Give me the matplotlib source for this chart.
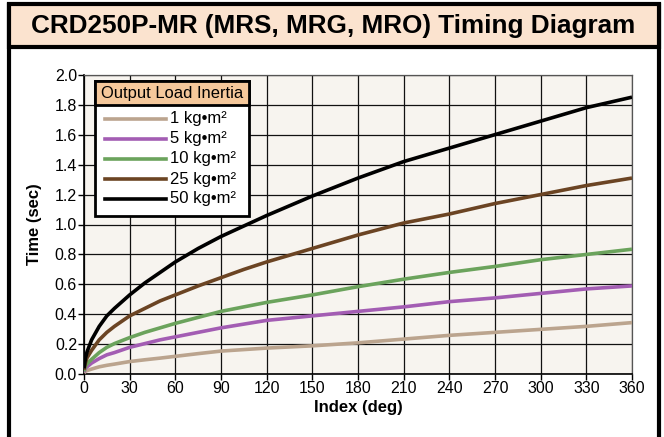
import matplotlib
matplotlib.use("Agg")
import matplotlib.pyplot as plt
from matplotlib.patches import Rectangle
from matplotlib.lines import Line2D

plt.rcParams["font.family"] = ["Liberation Sans", "DejaVu Sans"]

# index angle (deg) and time (sec)
index_deg = [0, 1, 2, 5, 10, 15, 20, 30, 40, 50, 60, 75, 90, 105, 120,
             150, 180, 210, 240, 270, 300, 330, 360]
t_1 = [0.01, 0.02, 0.025, 0.035, 0.05, 0.06, 0.068, 0.085, 0.097, 0.108, 0.12, 0.138,
       0.155, 0.165, 0.175, 0.19, 0.21, 0.235, 0.26, 0.28, 0.30, 0.32, 0.345]
t_5 = [0.015, 0.04, 0.05, 0.075, 0.105, 0.13, 0.145, 0.18, 0.205, 0.23, 0.25, 0.28,
       0.31, 0.335, 0.36, 0.39, 0.42, 0.45, 0.485, 0.51, 0.54, 0.57, 0.59]
t_10 = [0.02, 0.055, 0.07, 0.10, 0.145, 0.18, 0.205, 0.245, 0.28, 0.31, 0.34, 0.38,
        0.42, 0.45, 0.48, 0.53, 0.585, 0.635, 0.68, 0.72, 0.765, 0.80, 0.835]
t_25 = [0.03, 0.08, 0.11, 0.16, 0.23, 0.28, 0.32, 0.39, 0.44, 0.49, 0.53, 0.59,
        0.645, 0.70, 0.75, 0.84, 0.93, 1.01, 1.07, 1.14, 1.20, 1.26, 1.31]
t_50 = [0.04, 0.11, 0.15, 0.23, 0.32, 0.39, 0.44, 0.53, 0.61, 0.68, 0.75, 0.84,
        0.92, 0.99, 1.06, 1.19, 1.31, 1.42, 1.51, 1.60, 1.69, 1.78, 1.85]

labels = ["1 kg•m²", "5 kg•m²", "10 kg•m²", "25 kg•m²", "50 kg•m²"]
colors = ["#bba48e", "#a35db3", "#6ba35c", "#6b4423", "#000000"]
series = [t_1, t_5, t_10, t_25, t_50]

W, H = 664, 437
fig = plt.figure(figsize=(W / 100, H / 100), dpi=100)
fig.patch.set_facecolor("white")


def fx(px):
    return px / W


def fy(py):
    return 1 - py / H


# outer frame and title band
fig.patches.append(Rectangle((fx(8.5), fy(440)), fx(659) - fx(8.5), fy(4.5) - fy(440),
                             transform=fig.transFigure, facecolor="white",
                             edgecolor="black", lw=3, zorder=-2))
fig.patches.append(Rectangle((fx(8.5), fy(46.5)), fx(659) - fx(8.5), fy(4.5) - fy(46.5),
                             transform=fig.transFigure, facecolor="#fbe3cf",
                             edgecolor="black", lw=3, zorder=-1))
fig.text(fx(333), fy(26.5), "CRD250P-MR (MRS, MRG, MRO) Timing Diagram",
         ha="center", va="center", fontsize=18.8, fontweight="bold")

ax = fig.add_axes([fx(84), fy(374.3), fx(632) - fx(84), fy(74.7) - fy(374.3)])
ax.set_zorder(2)
ax.set_facecolor("#f7f4ef")

for y, c in zip(series, colors):
    ax.plot(index_deg, y, color=c, lw=2.6, solid_capstyle="butt", zorder=3)

ax.set_xlim(0, 360)
ax.set_ylim(0, 2.0)
ax.set_xticks(range(0, 361, 30))
ax.set_yticks([i / 10 for i in range(0, 21, 2)])
ax.set_yticklabels([f"{i / 10:.1f}" for i in range(0, 21, 2)])
ax.grid(True, color="#111111", lw=0.9, zorder=1)
ax.set_axisbelow(True)
ax.tick_params(direction="out", length=4, width=1, labelsize=11.5, pad=1, colors="black")
for s in ["top", "right"]:
    ax.spines[s].set_color("#555555")
    ax.spines[s].set_linewidth(0.9)
for s in ["left", "bottom"]:
    ax.spines[s].set_color("black")
    ax.spines[s].set_linewidth(1.2)

ax.set_xlabel("Index (deg)", fontsize=12, fontweight="bold", labelpad=3)
ax.set_ylabel("Time (sec)", fontsize=12, fontweight="bold", labelpad=9)

# legend drawn by hand (header box with peach fill)
def axx(px):
    return (px - 84) / (632 - 84)


def axy(py):
    return (374.3 - py) / (374.3 - 74.7)


ax.add_patch(Rectangle((axx(95), axy(216)), axx(249) - axx(95), axy(81) - axy(216),
                       transform=ax.transAxes, facecolor="white", edgecolor="black",
                       lw=2, zorder=5))
ax.add_patch(Rectangle((axx(95), axy(105)), axx(249) - axx(95), axy(81) - axy(105),
                       transform=ax.transAxes, facecolor="#f5c89b", edgecolor="black",
                       lw=2, zorder=6))
ax.text(axx(172), axy(93.5), "Output Load Inertia", transform=ax.transAxes,
        ha="center", va="center", fontsize=11.9, zorder=7)
for i, (lab, c) in enumerate(zip(labels, colors)):
    yy = 119 + 20 * i
    ax.add_line(Line2D([axx(105), axx(166)], [axy(yy), axy(yy)], transform=ax.transAxes,
                       color=c, lw=2.6, zorder=7))
    ax.text(axx(170), axy(yy), lab, transform=ax.transAxes, ha="left", va="center",
            fontsize=12, zorder=7)

fig.savefig("out.png", dpi=100)
